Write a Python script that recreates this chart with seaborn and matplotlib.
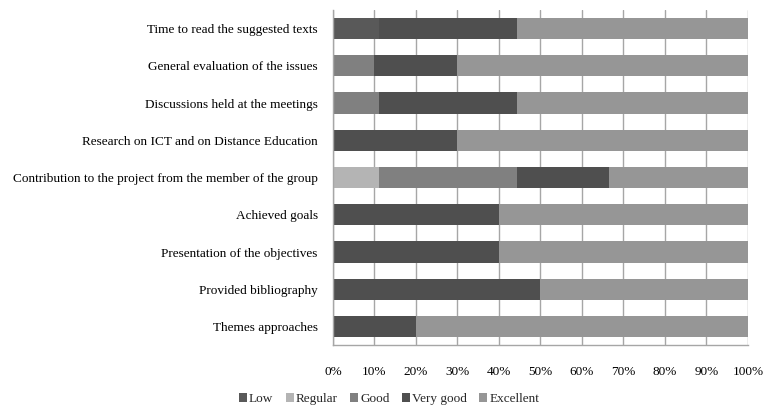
import numpy as np
import pandas as pd
import matplotlib
matplotlib.use("Agg")
import matplotlib.pyplot as plt
from matplotlib.patches import Patch
import seaborn as sns

# survey items, top to bottom
items = [
    "Time to read the suggested texts",
    "General evaluation of the issues",
    "Discussions held at the meetings",
    "Research on ICT and on Distance Education",
    "Contribution to the project from the member of the group",
    "Achieved goals",
    "Presentation of the objectives",
    "Provided bibliography",
    "Themes approaches",
]

# share of answers (%) per rating
low       = [11.1, 0,    0,    0,  0,    0,  0,  0,  0]
regular   = [0,    0,    0,    0,  11.1, 0,  0,  0,  0]
good      = [0,    10,   11.1, 0,  33.3, 0,  0,  0,  0]
very_good = [33.3, 20,   33.3, 30, 22.2, 40, 40, 50, 20]
excellent = [55.6, 70,   55.6, 70, 33.4, 60, 60, 50, 80]

ratings = ["Low", "Regular", "Good", "Very good", "Excellent"]
colors = ["#595959", "#b4b4b4", "#808080", "#4f4f4f", "#969696"]

df = pd.DataFrame({"item": items, "Low": low, "Regular": regular, "Good": good,
                   "Very good": very_good, "Excellent": excellent})
cum = df[ratings].cumsum(axis=1)

sns.set_style("white")
plt.rcParams["font.family"] = ["Liberation Serif", "DejaVu Serif"]

fig, ax = plt.subplots(figsize=(7.63, 4.11), dpi=100)
fig.subplots_adjust(left=0.4364, right=0.9803, top=0.9757, bottom=0.1600)

ax.set_axisbelow(True)
ax.grid(axis="x", color="#a6a6a6", linewidth=1)

# draw cumulative bars from the last rating backwards so each covers the next
for r, c in zip(ratings[::-1], colors[::-1]):
    sns.barplot(x=cum[r], y=df["item"], color=c, width=0.57, orient="h",
                ax=ax, saturation=1, edgecolor="none")

ax.set_xlim(0, 100)
ax.set_xticks(np.arange(0, 101, 10))
ax.set_xticklabels([f"{v}%" for v in range(0, 101, 10)])
ax.set_xlabel("")
ax.set_ylabel("")
ax.tick_params(axis="x", length=0, pad=15, labelsize=9.5, colors="black")
ax.tick_params(axis="y", length=0, pad=11, labelsize=9.5, colors="black")

for s in ["top", "right"]:
    ax.spines[s].set_visible(False)
for s in ["left", "bottom"]:
    ax.spines[s].set_color("#a6a6a6")
    ax.spines[s].set_linewidth(1)

handles = [Patch(facecolor=c, edgecolor="none", label=r) for r, c in zip(ratings, colors)]
fig.legend(handles=handles, loc="lower center", bbox_to_anchor=(0.51, -0.015), ncol=5,
           frameon=False, fontsize=9.5, handlelength=0.6, handleheight=0.6,
           handletextpad=0.15, columnspacing=0.95)

fig.savefig("out.png", dpi=100)
